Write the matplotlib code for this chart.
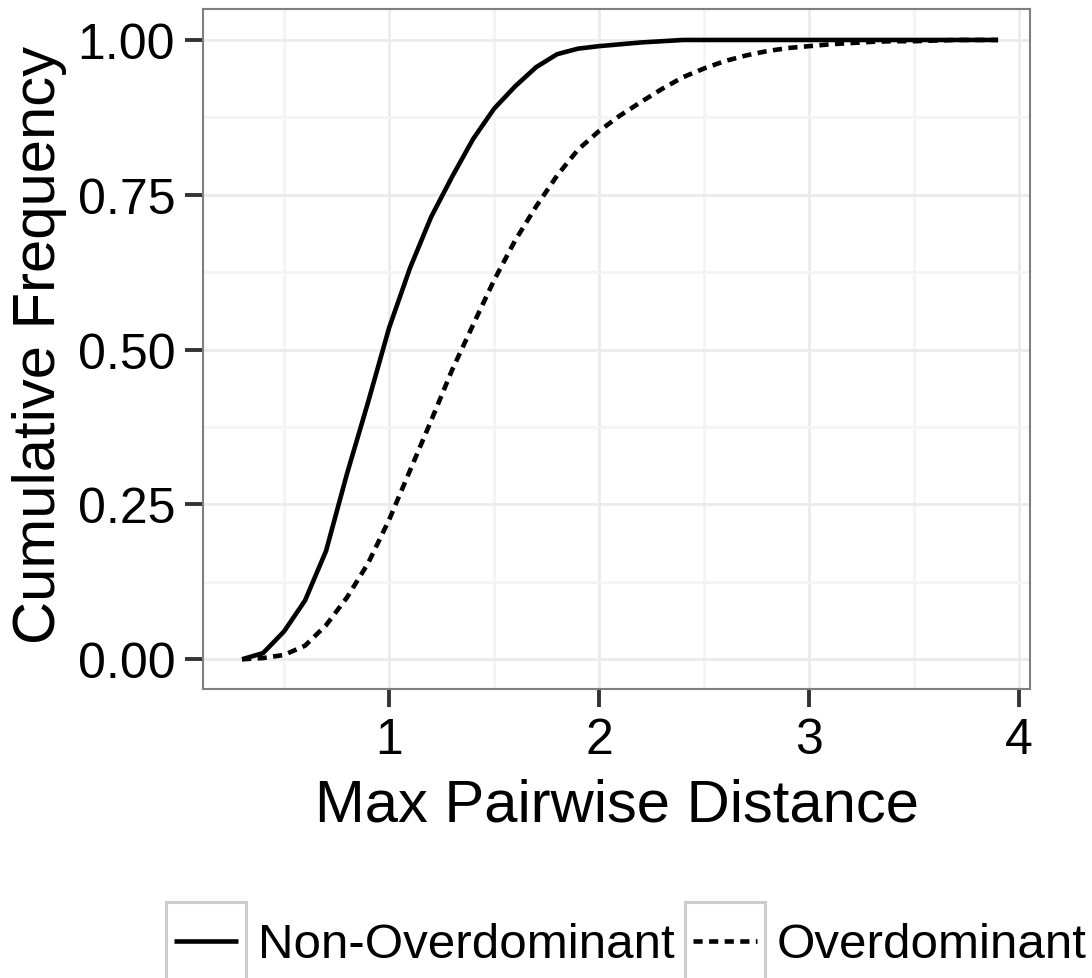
import matplotlib
matplotlib.use("Agg")
import matplotlib.pyplot as plt
from matplotlib.patches import Rectangle
from matplotlib.lines import Line2D

plt.rcParams['font.family'] = ['Liberation Sans', 'DejaVu Sans']

# ECDF values, evaluated every 0.1 from 0.3 to 3.9
distance = [0.3, 0.4, 0.5, 0.6, 0.7, 0.8, 0.9, 1.0, 1.1, 1.2,
            1.3, 1.4, 1.5, 1.6, 1.7, 1.8, 1.9, 2.0, 2.1, 2.2,
            2.3, 2.4, 2.5, 2.6, 2.7, 2.8, 2.9, 3.0, 3.1, 3.2,
            3.3, 3.4, 3.5, 3.6, 3.7, 3.8, 3.9]
non_overdominant = [0.0, 0.01, 0.045, 0.095, 0.175, 0.30, 0.415, 0.535, 0.632, 0.714,
                    0.779, 0.84, 0.889, 0.925, 0.956, 0.977, 0.986, 0.99, 0.993, 0.996,
                    0.998, 1.0, 1.0, 1.0, 1.0, 1.0, 1.0, 1.0, 1.0, 1.0,
                    1.0, 1.0, 1.0, 1.0, 1.0, 1.0, 1.0]
overdominant = [0.0, 0.002, 0.007, 0.022, 0.055, 0.10, 0.155, 0.225, 0.305, 0.385,
                0.467, 0.54, 0.612, 0.676, 0.731, 0.781, 0.823, 0.853, 0.878, 0.90,
                0.921, 0.94, 0.954, 0.966, 0.975, 0.982, 0.987, 0.99, 0.993, 0.995,
                0.997, 0.998, 0.998, 0.999, 1.0, 1.0, 1.0]

W, H = 1092, 979
fig = plt.figure(figsize=(W / 100, H / 100), dpi=100)
ax = fig.add_axes([203 / W, 1 - 690 / H, 827 / W, 680 / H])

lw = 3.3
dash = (2.0, 1.4)
ax.plot(distance, non_overdominant, color='black', lw=lw, solid_capstyle='butt')
ax.plot(distance, overdominant, color='black', lw=lw, dashes=dash, dash_capstyle='butt')

ax.set_xlim(0.114, 4.052)
ax.set_ylim(-0.048, 1.05)
ax.set_xticks([1, 2, 3, 4])
ax.set_xticks([0.5, 1.5, 2.5, 3.5], minor=True)
ax.set_yticks([0, 0.25, 0.5, 0.75, 1.0])
ax.set_yticklabels(['0.00', '0.25', '0.50', '0.75', '1.00'])
ax.set_yticks([0.125, 0.375, 0.625, 0.875], minor=True)

ax.grid(which='major', color='#ebebeb', lw=2.0)
ax.grid(which='minor', color='#f4f4f4', lw=2.0)
ax.set_axisbelow(True)
for s in ax.spines.values():
    s.set_color('#7f7f7f')
    s.set_linewidth(1.5)

ax.tick_params(which='major', length=13, width=2.8, color='#333333',
               labelsize=36, pad=7, labelcolor='black')
ax.tick_params(which='minor', length=0)

fig.text(55 / W, 1 - 345 / H, 'Cumulative Frequency', rotation=90,
         rotation_mode='anchor', ha='center', va='baseline', fontsize=43)
fig.text(617 / W, 1 - 821 / H, 'Max Pairwise Distance',
         ha='center', va='baseline', fontsize=43)

# legend drawn by hand (ggplot style keys with grey border)
def px(x, y):
    return x / W, 1 - y / H

keys = [(166, 'Non-Overdominant', None), (685, 'Overdominant', dash)]
for x0, label, d in keys:
    bx, by = px(x0, 995)
    fig.patches.append(Rectangle((bx, by), 80 / W, 92 / H, transform=fig.transFigure,
                                 fill=False, edgecolor='#cccccc', lw=2.2))
    lx0, ly = px(x0 + 8, 942)
    lx1, _ = px(x0 + 72, 942)
    ln = Line2D([lx0, lx1], [ly, ly], transform=fig.transFigure, color='black', lw=lw,
                solid_capstyle='butt', dash_capstyle='butt')
    if d is not None:
        ln.set_dashes(d)
    fig.lines.append(ln)
    tx, ty = px(x0 + 92, 958)
    fig.text(tx, ty, label, ha='left', va='baseline', fontsize=35.5)

fig.savefig('out.png', dpi=100)
